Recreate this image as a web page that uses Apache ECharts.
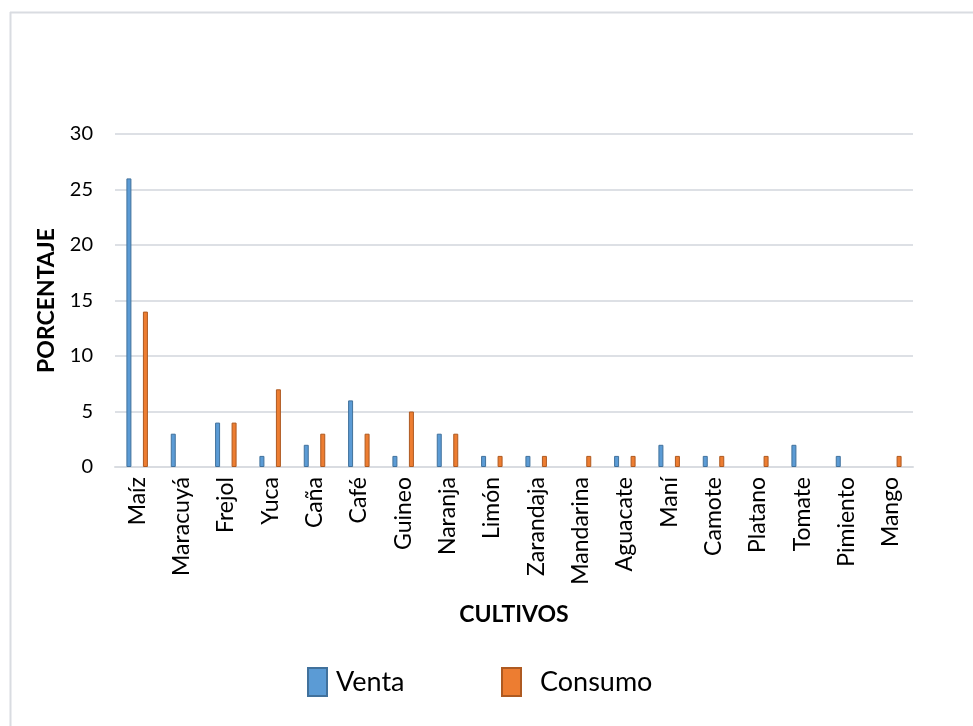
<!DOCTYPE html>
<html>
<head>
<meta charset="utf-8">
<script src="https://cdn.jsdelivr.net/npm/echarts@6/dist/echarts.min.js"></script>
<style>
html,body{margin:0;padding:0;background:#fff;}
#chart{width:973px;height:726px;}
</style>
</head>
<body>
<div id="chart"></div>
<script>
var categories = ["Maíz","Maracuyá","Frejol","Yuca","Caña","Café","Guineo","Naranja","Limón","Zarandaja","Mandarina","Aguacate","Maní","Camote","Platano","Tomate","Pimiento","Mango"];
var venta   = [26, 3, 4, 1, 2, 6, 1, 3, 1, 1, 0, 1, 2, 1, 0, 2, 1, 0];
var consumo = [14, 0, 4, 7, 3, 3, 5, 3, 1, 1, 1, 1, 1, 1, 1, 0, 0, 1];
var yTicks = [0, 5, 10, 15, 20, 25, 30];

var FONT = 'Lato, "Open Sans", sans-serif';
// zero values are not drawn as bars (no visible mark in the reference)
function hideZero(arr) { return arr.map(function (v) { return v === 0 ? null : v; }); }

var chart = echarts.init(document.getElementById('chart'), null, {renderer: 'canvas'});
var legendText = {fontFamily: FONT, fontSize: 27, color: '#000'};
var option = {
  animation: false,
  backgroundColor: '#ffffff',
  textStyle: {fontFamily: FONT},
  graphic: [
    {type: 'line', shape: {x1: 10.5, y1: 12, x2: 10.5, y2: 726}, style: {stroke: '#D9DCE1', lineWidth: 2}},
    {type: 'line', shape: {x1: 10, y1: 12.5, x2: 973, y2: 12.5}, style: {stroke: '#D9DCE1', lineWidth: 2}}
  ],
  grid: {left: 115, right: 60, top: 134, bottom: 259, containLabel: false},
  legend: [
    {
      data: ['Venta'], left: 302, top: 662,
      itemWidth: 19, itemHeight: 28, icon: 'rect',
      textStyle: Object.assign({}, legendText, {padding: [0, 0, 16, 4]})
    },
    {
      data: ['Consumo'], left: 496, top: 662,
      itemWidth: 19, itemHeight: 28, icon: 'rect',
      textStyle: Object.assign({}, legendText, {padding: [0, 0, 6, 14]})
    }
  ],
  xAxis: {
    type: 'category',
    data: categories,
    name: 'CULTIVOS',
    nameLocation: 'middle',
    nameGap: 136,
    nameTextStyle: {fontFamily: FONT, fontSize: 23, fontWeight: 'bold', color: '#000'},
    axisLine: {show: true, lineStyle: {color: '#D9DCE1', width: 2}},
    axisTick: {show: false},
    axisLabel: {rotate: 90, fontSize: 23, color: '#000', margin: 10, interval: 0, fontFamily: FONT}
  },
  yAxis: {
    type: 'value',
    min: 0, max: 30, interval: 5,
    name: 'PORCENTAJE',
    nameLocation: 'middle',
    nameGap: 57,
    nameRotate: 90,
    nameTextStyle: {fontFamily: FONT, fontSize: 23, fontWeight: 'bold', color: '#000'},
    axisLine: {show: false},
    axisTick: {show: false},
    axisLabel: {fontSize: 20, color: '#000', margin: 22, fontFamily: FONT,
      formatter: function (v) { return yTicks.indexOf(v) >= 0 ? String(v) : ''; }},
    splitLine: {lineStyle: {color: '#DDE0E5', width: 2}}
  },
  series: [
    {
      name: 'Venta', type: 'bar', data: hideZero(venta),
      barWidth: 5, barGap: '230%',
      itemStyle: {color: '#5B9BD5', borderColor: '#41719C', borderWidth: 1}
    },
    {
      name: 'Consumo', type: 'bar', data: hideZero(consumo),
      barWidth: 5,
      itemStyle: {color: '#ED7D31', borderColor: '#AE5A21', borderWidth: 1}
    }
  ]
};
chart.setOption(option);
</script>
</body>
</html>
